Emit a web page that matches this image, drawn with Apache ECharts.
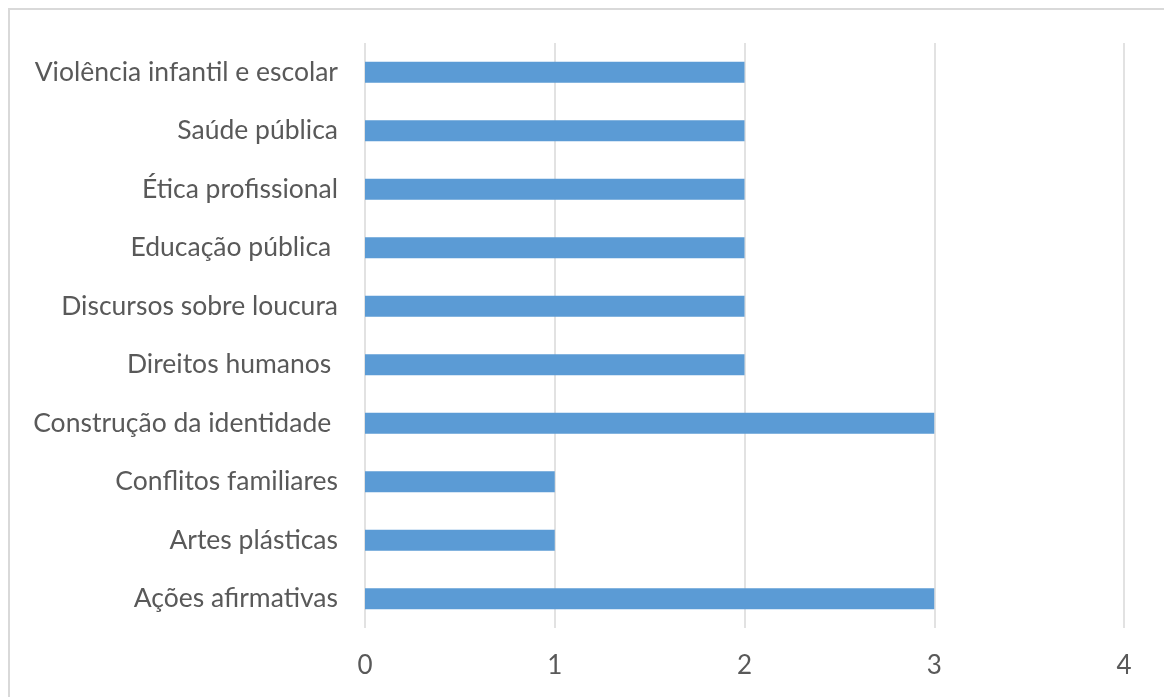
<!DOCTYPE html>
<html>
<head>
<meta charset="utf-8">
<script src="https://cdn.jsdelivr.net/npm/echarts@6/dist/echarts.min.js"></script>
<style>
html,body{margin:0;padding:0;background:#fff;}
#chart{width:1164px;height:697px;}
</style>
</head>
<body>
<div id="chart"></div>
<script>
const categories = [
  "Ações afirmativas",
  "Artes plásticas",
  "Conflitos familiares",
  "Construção da identidade ",
  "Direitos humanos ",
  "Discursos sobre loucura",
  "Educação pública ",
  "Ética profissional",
  "Saúde pública",
  "Violência infantil e escolar"
];
const values = [3, 1, 1, 3, 2, 2, 2, 2, 2, 2];
const xTicks = [0, 1, 2, 3, 4];

const chart = echarts.init(document.getElementById('chart'), null, {renderer: 'canvas'});
const font = 'Lato';
chart.setOption({
  animation: false,
  backgroundColor: '#ffffff',
  graphic: [{
    type: 'rect',
    shape: {x: 9, y: 9, width: 1300, height: 900},
    style: {fill: 'none', stroke: '#d9d9d9', lineWidth: 2},
    silent: true
  }],
  grid: {left: 365, right: 40, top: 43, bottom: 69, containLabel: false},
  xAxis: {
    type: 'value',
    min: xTicks[0],
    max: xTicks[xTicks.length - 1],
    interval: 1,
    axisLine: {show: false},
    axisTick: {show: false},
    splitLine: {show: true, lineStyle: {color: '#d9d9d9', width: 1.5}},
    axisLabel: {color: '#595959', fontFamily: font, fontSize: 26, margin: 25}
  },
  yAxis: {
    type: 'category',
    data: categories,
    axisLine: {show: false},
    axisTick: {show: false},
    splitLine: {show: false},
    axisLabel: {color: '#595959', fontFamily: font, fontSize: 26.5, margin: 27}
  },
  series: [{
    type: 'bar',
    data: values,
    barWidth: 21,
    itemStyle: {color: '#5b9bd5'}
  }]
});
</script>
</body>
</html>
